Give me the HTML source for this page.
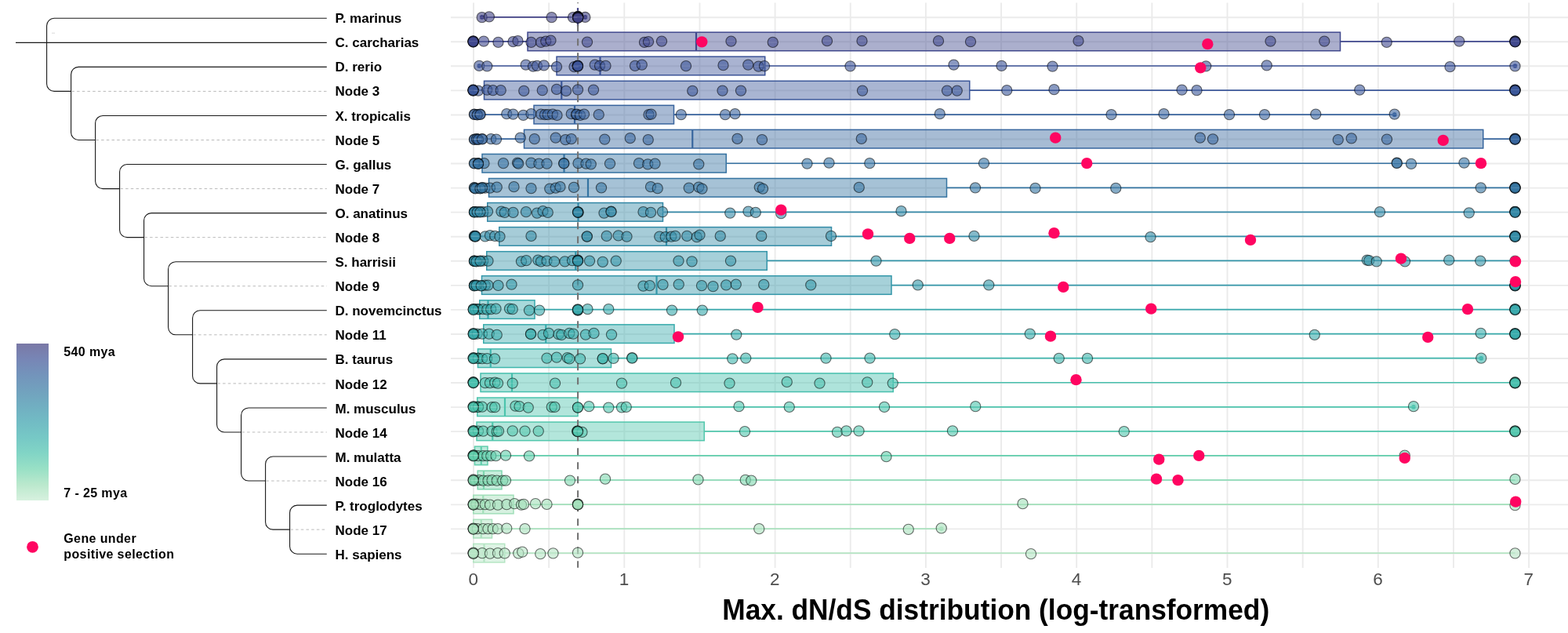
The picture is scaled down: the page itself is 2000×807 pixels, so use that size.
<!DOCTYPE html>
<html><head><meta charset="utf-8"><title>Max. dN/dS distribution</title>
<style>html,body{margin:0;padding:0;background:#fff;}svg{display:block;}</style>
</head><body>
<svg width="2000" height="807" viewBox="0 0 2000 807">
<rect width="2000" height="807" fill="#ffffff"/>
<path d="M20,54.34H416.8M59.60,32.80V106.92M59.60,32.80A9.5,9.5 0 0 1 69.10,23.30H416.80M59.60,106.92A9.5,9.5 0 0 0 69.10,116.42H90.60M90.60,94.88V169.00M90.60,94.88A9.5,9.5 0 0 1 100.10,85.38H416.80M90.60,169.00A9.5,9.5 0 0 0 100.10,178.50H121.60M121.60,156.96V231.08M121.60,156.96A9.5,9.5 0 0 1 131.10,147.46H416.80M121.60,231.08A9.5,9.5 0 0 0 131.10,240.58H152.60M152.60,219.04V293.16M152.60,219.04A9.5,9.5 0 0 1 162.10,209.54H416.80M152.60,293.16A9.5,9.5 0 0 0 162.10,302.66H183.60M183.60,281.12V355.24M183.60,281.12A9.5,9.5 0 0 1 193.10,271.62H416.80M183.60,355.24A9.5,9.5 0 0 0 193.10,364.74H214.60M214.60,343.20V417.32M214.60,343.20A9.5,9.5 0 0 1 224.10,333.70H416.80M214.60,417.32A9.5,9.5 0 0 0 224.10,426.82H245.60M245.60,405.28V479.40M245.60,405.28A9.5,9.5 0 0 1 255.10,395.78H416.80M245.60,479.40A9.5,9.5 0 0 0 255.10,488.90H276.60M276.60,467.36V541.48M276.60,467.36A9.5,9.5 0 0 1 286.10,457.86H416.80M276.60,541.48A9.5,9.5 0 0 0 286.10,550.98H307.60M307.60,529.44V603.56M307.60,529.44A9.5,9.5 0 0 1 317.10,519.94H416.80M307.60,603.56A9.5,9.5 0 0 0 317.10,613.06H338.60M338.60,591.52V665.64M338.60,591.52A9.5,9.5 0 0 1 348.10,582.02H416.80M338.60,665.64A9.5,9.5 0 0 0 348.10,675.14H369.60M369.60,653.60V696.68M369.60,653.60A9.5,9.5 0 0 1 379.10,644.10H416.80M369.60,696.68A9.5,9.5 0 0 0 379.10,706.18H416.80" fill="none" stroke="#1a1a1a" stroke-width="1.1"/>
<path d="M91.40,116.42H416.8M122.40,178.50H416.8M153.40,240.58H416.8M184.40,302.66H416.8M215.40,364.74H416.8M246.40,426.82H416.8M277.40,488.90H416.8M308.40,550.98H416.8M339.40,613.06H416.8M370.40,675.14H416.8" fill="none" stroke="#a8a8a8" stroke-width="0.8" stroke-dasharray="3.5 3.2"/>
<path d="M66,42.2H70" stroke="#cfcfcf" stroke-width="0.8"/>
<g font-family="Liberation Sans, Arial, sans-serif" font-weight="bold" font-size="17" fill="#000">
<text x="427.5" y="29.15">P. marinus</text>
<text x="427.5" y="60.24">C. carcharias</text>
<text x="427.5" y="91.34">D. rerio</text>
<text x="427.5" y="122.44">Node 3</text>
<text x="427.5" y="153.53">X. tropicalis</text>
<text x="427.5" y="184.62">Node 5</text>
<text x="427.5" y="215.72">G. gallus</text>
<text x="427.5" y="246.81">Node 7</text>
<text x="427.5" y="277.91">O. anatinus</text>
<text x="427.5" y="309.00">Node 8</text>
<text x="427.5" y="340.10">S. harrisii</text>
<text x="427.5" y="371.19">Node 9</text>
<text x="427.5" y="402.29">D. novemcinctus</text>
<text x="427.5" y="433.38">Node 11</text>
<text x="427.5" y="464.48">B. taurus</text>
<text x="427.5" y="495.57">Node 12</text>
<text x="427.5" y="526.67">M. musculus</text>
<text x="427.5" y="557.76">Node 14</text>
<text x="427.5" y="588.86">M. mulatta</text>
<text x="427.5" y="619.95">Node 16</text>
<text x="427.5" y="651.05">P. troglodytes</text>
<text x="427.5" y="682.14">Node 17</text>
<text x="427.5" y="713.24">H. sapiens</text>
</g>
<g transform="translate(0,0.45)">
<path d="M575,21.75H2000M575,52.81H2000M575,83.86H2000M575,114.92H2000M575,145.98H2000M575,177.03H2000M575,208.09H2000M575,239.15H2000M575,270.21H2000M575,301.26H2000M575,332.32H2000M575,363.38H2000M575,394.43H2000M575,425.49H2000M575,456.55H2000M575,487.60H2000M575,518.66H2000M575,549.72H2000M575,580.78H2000M575,611.83H2000M575,642.89H2000M575,673.95H2000M575,705.00H2000M604.00,3.1V723.6M700.15,3.1V723.6M796.30,3.1V723.6M892.45,3.1V723.6M988.60,3.1V723.6M1084.75,3.1V723.6M1180.90,3.1V723.6M1277.05,3.1V723.6M1373.20,3.1V723.6M1469.35,3.1V723.6M1565.50,3.1V723.6M1661.65,3.1V723.6M1757.80,3.1V723.6M1853.95,3.1V723.6M1950.10,3.1V723.6" fill="none" stroke="#ebebeb" stroke-width="1.9"/>
</g><g transform="translate(0,0.15)">
<path d="M614.70,21.75H737.00M737.00,21.75H746.40" stroke="#414285" stroke-width="1.7"/>
<path d="M737.00,9.95V33.55" stroke="#414285" stroke-width="2.2"/>
<circle cx="614.70" cy="21.75" r="2.8" fill="#414285"/>
<circle cx="746.40" cy="21.75" r="2.8" fill="#414285"/>
<path d="M603.25,52.81H673.00M1709.50,52.81H1932.50" stroke="#40488d" stroke-width="1.7"/>
<rect x="673.00" y="41.01" width="1036.50" height="23.60" fill="#40488d" fill-opacity="0.44" stroke="#40488d" stroke-width="1.5"/>
<path d="M888.00,41.01V64.61" stroke="#40488d" stroke-width="2.2"/>
<path d="M611.25,83.86H710.00M975.75,83.86H1932.50" stroke="#3c5397" stroke-width="1.7"/>
<rect x="710.00" y="72.06" width="265.75" height="23.60" fill="#3c5397" fill-opacity="0.44" stroke="#3c5397" stroke-width="1.5"/>
<path d="M765.50,72.06V95.66" stroke="#3c5397" stroke-width="2.2"/>
<circle cx="611.25" cy="83.86" r="2.8" fill="#3c5397"/>
<circle cx="1932.50" cy="83.86" r="2.8" fill="#3c5397"/>
<path d="M603.25,114.92H617.50M1236.75,114.92H1932.50" stroke="#3b5799" stroke-width="1.7"/>
<rect x="617.50" y="103.12" width="619.25" height="23.60" fill="#3b5799" fill-opacity="0.44" stroke="#3b5799" stroke-width="1.5"/>
<path d="M716.25,103.12V126.72" stroke="#3b5799" stroke-width="2.2"/>
<path d="M605.00,145.98H681.00M859.50,145.98H1778.75" stroke="#38639d" stroke-width="1.7"/>
<rect x="681.00" y="134.18" width="178.50" height="23.60" fill="#38639d" fill-opacity="0.44" stroke="#38639d" stroke-width="1.5"/>
<path d="M733.00,134.18V157.78" stroke="#38639d" stroke-width="2.2"/>
<circle cx="1778.75" cy="145.98" r="2.8" fill="#38639d"/>
<path d="M605.00,177.03H668.50M1891.75,177.03H1932.50" stroke="#37669e" stroke-width="1.7"/>
<rect x="668.50" y="165.23" width="1223.25" height="23.60" fill="#37669e" fill-opacity="0.44" stroke="#37669e" stroke-width="1.5"/>
<path d="M883.25,165.23V188.84" stroke="#37669e" stroke-width="2.2"/>
<path d="M605.00,208.09H615.00M926.25,208.09H1889.00" stroke="#3572a1" stroke-width="1.7"/>
<rect x="615.00" y="196.29" width="311.25" height="23.60" fill="#3572a1" fill-opacity="0.44" stroke="#3572a1" stroke-width="1.5"/>
<path d="M719.50,196.29V219.89" stroke="#3572a1" stroke-width="2.2"/>
<path d="M600.00,239.15H623.50M1207.50,239.15H1932.50" stroke="#3574a1" stroke-width="1.7"/>
<rect x="623.50" y="227.35" width="584.00" height="23.60" fill="#3574a1" fill-opacity="0.44" stroke="#3574a1" stroke-width="1.5"/>
<path d="M750.00,227.35V250.95" stroke="#3574a1" stroke-width="2.2"/>
<path d="M601.00,270.21H621.75M845.50,270.21H1932.50" stroke="#3488a6" stroke-width="1.7"/>
<rect x="621.75" y="258.41" width="223.75" height="23.60" fill="#3488a6" fill-opacity="0.44" stroke="#3488a6" stroke-width="1.5"/>
<path d="M737.50,258.41V282.01" stroke="#3488a6" stroke-width="2.2"/>
<path d="M601.00,301.26H636.75M1060.50,301.26H1932.50" stroke="#348ca7" stroke-width="1.7"/>
<rect x="636.75" y="289.46" width="423.75" height="23.60" fill="#348ca7" fill-opacity="0.44" stroke="#348ca7" stroke-width="1.5"/>
<path d="M850.00,289.46V313.06" stroke="#348ca7" stroke-width="2.2"/>
<path d="M602.50,332.32H620.75M978.25,332.32H1933.00" stroke="#3495a9" stroke-width="1.7"/>
<rect x="620.75" y="320.52" width="357.50" height="23.60" fill="#3495a9" fill-opacity="0.44" stroke="#3495a9" stroke-width="1.5"/>
<path d="M734.25,320.52V344.12" stroke="#3495a9" stroke-width="2.2"/>
<path d="M602.50,363.38H614.50M1137.00,363.38H1932.50" stroke="#3497a9" stroke-width="1.7"/>
<rect x="614.50" y="351.58" width="522.50" height="23.60" fill="#3497a9" fill-opacity="0.44" stroke="#3497a9" stroke-width="1.5"/>
<path d="M837.50,351.58V375.18" stroke="#3497a9" stroke-width="2.2"/>
<path d="M602.50,394.43H611.75M682.00,394.43H1932.50" stroke="#37a8ac" stroke-width="1.7"/>
<rect x="611.75" y="382.63" width="70.25" height="23.60" fill="#37a8ac" fill-opacity="0.44" stroke="#37a8ac" stroke-width="1.5"/>
<path d="M622.50,382.63V406.23" stroke="#37a8ac" stroke-width="2.2"/>
<path d="M601.00,425.49H616.75M860.00,425.49H1932.50" stroke="#39abac" stroke-width="1.7"/>
<rect x="616.75" y="413.69" width="243.25" height="23.60" fill="#39abac" fill-opacity="0.44" stroke="#39abac" stroke-width="1.5"/>
<path d="M696.25,413.69V437.29" stroke="#39abac" stroke-width="2.2"/>
<path d="M601.00,456.55H609.50M779.50,456.55H1889.25" stroke="#3fb6ad" stroke-width="1.7"/>
<rect x="609.50" y="444.75" width="170.00" height="23.60" fill="#3fb6ad" fill-opacity="0.44" stroke="#3fb6ad" stroke-width="1.5"/>
<path d="M625.75,444.75V468.35" stroke="#3fb6ad" stroke-width="2.2"/>
<circle cx="1889.25" cy="456.55" r="2.8" fill="#3fb6ad"/>
<path d="M603.00,487.60H613.00M1139.25,487.60H1932.50" stroke="#47bfad" stroke-width="1.7"/>
<rect x="613.00" y="475.80" width="526.25" height="23.60" fill="#47bfad" fill-opacity="0.44" stroke="#47bfad" stroke-width="1.5"/>
<path d="M653.00,475.80V499.40" stroke="#47bfad" stroke-width="2.2"/>
<path d="M602.50,518.66H608.75M737.00,518.66H1803.00" stroke="#4dc4ad" stroke-width="1.7"/>
<rect x="608.75" y="506.86" width="128.25" height="23.60" fill="#4dc4ad" fill-opacity="0.44" stroke="#4dc4ad" stroke-width="1.5"/>
<path d="M644.00,506.86V530.46" stroke="#4dc4ad" stroke-width="2.2"/>
<circle cx="1803.00" cy="518.66" r="2.8" fill="#4dc4ad"/>
<path d="M601.00,549.72H608.00M898.25,549.72H1932.50" stroke="#52c7ad" stroke-width="1.7"/>
<rect x="608.00" y="537.92" width="290.25" height="23.60" fill="#52c7ad" fill-opacity="0.44" stroke="#52c7ad" stroke-width="1.5"/>
<path d="M628.25,537.92V561.52" stroke="#52c7ad" stroke-width="2.2"/>
<path d="M601.00,580.78H605.50M622.00,580.78H1791.75" stroke="#60ceac" stroke-width="1.7"/>
<rect x="605.50" y="568.98" width="16.50" height="23.60" fill="#60ceac" fill-opacity="0.44" stroke="#60ceac" stroke-width="1.5"/>
<path d="M613.75,568.98V592.58" stroke="#60ceac" stroke-width="2.2"/>
<path d="M602.50,611.83H609.25M640.00,611.83H1932.50" stroke="#7fd7af" stroke-width="1.7"/>
<rect x="609.25" y="600.03" width="30.75" height="23.60" fill="#7fd7af" fill-opacity="0.44" stroke="#7fd7af" stroke-width="1.5"/>
<path d="M617.00,600.03V623.63" stroke="#7fd7af" stroke-width="2.2"/>
<path d="M602.50,642.89H603.75M655.00,642.89H1932.50" stroke="#a1dfb9" stroke-width="1.7"/>
<rect x="603.75" y="631.09" width="51.25" height="23.60" fill="#a1dfb9" fill-opacity="0.44" stroke="#a1dfb9" stroke-width="1.5"/>
<path d="M616.25,631.09V654.69" stroke="#a1dfb9" stroke-width="2.2"/>
<path d="M602.50,673.95H603.75M627.50,673.95H1200.75" stroke="#a9e1bd" stroke-width="1.7"/>
<rect x="603.75" y="662.15" width="23.75" height="23.60" fill="#a9e1bd" fill-opacity="0.44" stroke="#a9e1bd" stroke-width="1.5"/>
<path d="M613.75,662.15V685.75" stroke="#a9e1bd" stroke-width="2.2"/>
<circle cx="1200.75" cy="673.95" r="2.8" fill="#a9e1bd"/>
<path d="M603.00,705.00H603.75M643.75,705.00H1932.50" stroke="#b5e5c4" stroke-width="1.7"/>
<rect x="603.75" y="693.20" width="40.00" height="23.60" fill="#b5e5c4" fill-opacity="0.44" stroke="#b5e5c4" stroke-width="1.5"/>
<path d="M617.50,693.20V716.80" stroke="#b5e5c4" stroke-width="2.2"/>
<path d="M737.09,3.1V723.6" stroke="#747474" stroke-width="2.1" stroke-dasharray="9 9" stroke-dashoffset="8"/>
<g fill="#414285" fill-opacity="0.6" stroke="rgba(0,0,0,0.56)" stroke-width="1.1"><circle cx="614.70" cy="22.00" r="6.6"/><circle cx="623.90" cy="21.20" r="6.6"/><circle cx="703.60" cy="22.00" r="6.6"/><circle cx="731.00" cy="22.00" r="6.6"/><circle cx="737.20" cy="21.60" r="6.6"/><circle cx="737.20" cy="21.90" r="6.6"/><circle cx="737.20" cy="21.30" r="6.6"/><circle cx="746.40" cy="21.80" r="6.6"/><circle cx="737.20" cy="20.80" r="6.6"/><circle cx="737.20" cy="21.20" r="6.6"/><circle cx="737.20" cy="21.60" r="6.6"/><circle cx="737.20" cy="22.00" r="6.6"/><circle cx="737.20" cy="22.40" r="6.6"/><circle cx="737.20" cy="22.80" r="6.6"/></g>
<path d="M609.30,22.00H620.10M618.50,21.20H629.30M698.20,22.00H709.00M725.60,22.00H736.40M731.80,21.60H742.60M741.00,21.80H751.80" stroke="#fff" stroke-opacity="0.22" stroke-width="0.7"/>
<g fill="#40488d" fill-opacity="0.6" stroke="rgba(0,0,0,0.56)" stroke-width="1.1"><circle cx="603.75" cy="52.50" r="6.6"/><circle cx="603.75" cy="52.80" r="6.6"/><circle cx="603.75" cy="53.20" r="6.6"/><circle cx="617.00" cy="52.50" r="6.6"/><circle cx="635.50" cy="53.75" r="6.6"/><circle cx="654.50" cy="53.00" r="6.6"/><circle cx="660.50" cy="52.00" r="6.6"/><circle cx="677.50" cy="53.75" r="6.6"/><circle cx="690.00" cy="53.75" r="6.6"/><circle cx="696.25" cy="52.50" r="6.6"/><circle cx="702.50" cy="51.50" r="6.6"/><circle cx="749.00" cy="53.50" r="6.6"/><circle cx="822.00" cy="53.75" r="6.6"/><circle cx="827.00" cy="53.00" r="6.6"/><circle cx="844.00" cy="52.50" r="6.6"/><circle cx="932.50" cy="52.50" r="6.6"/><circle cx="985.75" cy="53.75" r="6.6"/><circle cx="1055.00" cy="52.00" r="6.6"/><circle cx="1099.50" cy="52.00" r="6.6"/><circle cx="1197.00" cy="52.00" r="6.6"/><circle cx="1238.00" cy="53.00" r="6.6"/><circle cx="1375.50" cy="52.00" r="6.6"/><circle cx="1620.50" cy="52.50" r="6.6"/><circle cx="1689.25" cy="52.50" r="6.6"/><circle cx="1768.75" cy="53.75" r="6.6"/><circle cx="1861.25" cy="52.50" r="6.6"/><circle cx="1932.50" cy="52.50" r="6.6"/><circle cx="1932.50" cy="52.80" r="6.6"/><circle cx="1932.50" cy="53.10" r="6.6"/><circle cx="603.50" cy="52.21" r="6.6"/><circle cx="603.50" cy="53.41" r="6.6"/><circle cx="603.50" cy="52.81" r="6.6"/><circle cx="1932.50" cy="52.31" r="6.6"/><circle cx="1932.50" cy="53.31" r="6.6"/></g>
<path d="M598.35,52.50H609.15M611.60,52.50H622.40M630.10,53.75H640.90M649.10,53.00H659.90M655.10,52.00H665.90M672.10,53.75H682.90M684.60,53.75H695.40M690.85,52.50H701.65M697.10,51.50H707.90M743.60,53.50H754.40M816.60,53.75H827.40M821.60,53.00H832.40M838.60,52.50H849.40M927.10,52.50H937.90M980.35,53.75H991.15M1049.60,52.00H1060.40M1094.10,52.00H1104.90M1191.60,52.00H1202.40M1232.60,53.00H1243.40M1370.10,52.00H1380.90M1615.10,52.50H1625.90M1683.85,52.50H1694.65M1763.35,53.75H1774.15M1855.85,52.50H1866.65M1927.10,52.50H1937.90" stroke="#fff" stroke-opacity="0.22" stroke-width="0.7"/>
<g fill="#3c5397" fill-opacity="0.6" stroke="rgba(0,0,0,0.56)" stroke-width="1.1"><circle cx="611.25" cy="83.75" r="6.6"/><circle cx="621.25" cy="84.25" r="6.6"/><circle cx="670.75" cy="82.50" r="6.6"/><circle cx="680.00" cy="84.50" r="6.6"/><circle cx="685.00" cy="83.75" r="6.6"/><circle cx="693.75" cy="83.25" r="6.6"/><circle cx="710.00" cy="85.00" r="6.6"/><circle cx="732.50" cy="85.00" r="6.6"/><circle cx="736.75" cy="83.75" r="6.6"/><circle cx="736.75" cy="84.00" r="6.6"/><circle cx="736.75" cy="84.30" r="6.6"/><circle cx="758.75" cy="82.50" r="6.6"/><circle cx="765.00" cy="83.75" r="6.6"/><circle cx="772.50" cy="83.75" r="6.6"/><circle cx="810.00" cy="83.75" r="6.6"/><circle cx="818.75" cy="82.50" r="6.6"/><circle cx="875.00" cy="84.00" r="6.6"/><circle cx="922.50" cy="83.00" r="6.6"/><circle cx="954.25" cy="82.50" r="6.6"/><circle cx="967.50" cy="84.50" r="6.6"/><circle cx="975.00" cy="84.00" r="6.6"/><circle cx="1084.50" cy="84.25" r="6.6"/><circle cx="1216.50" cy="82.50" r="6.6"/><circle cx="1277.50" cy="83.75" r="6.6"/><circle cx="1342.50" cy="84.50" r="6.6"/><circle cx="1538.20" cy="84.25" r="6.6"/><circle cx="1615.75" cy="83.25" r="6.6"/><circle cx="1849.50" cy="85.00" r="6.6"/><circle cx="1932.50" cy="84.25" r="6.6"/><circle cx="737.00" cy="83.56" r="6.6"/><circle cx="737.00" cy="84.26" r="6.6"/></g>
<path d="M605.85,83.75H616.65M615.85,84.25H626.65M665.35,82.50H676.15M674.60,84.50H685.40M679.60,83.75H690.40M688.35,83.25H699.15M704.60,85.00H715.40M727.10,85.00H737.90M731.35,83.75H742.15M753.35,82.50H764.15M759.60,83.75H770.40M767.10,83.75H777.90M804.60,83.75H815.40M813.35,82.50H824.15M869.60,84.00H880.40M917.10,83.00H927.90M948.85,82.50H959.65M962.10,84.50H972.90M969.60,84.00H980.40M1079.10,84.25H1089.90M1211.10,82.50H1221.90M1272.10,83.75H1282.90M1337.10,84.50H1347.90M1532.80,84.25H1543.60M1610.35,83.25H1621.15M1844.10,85.00H1854.90M1927.10,84.25H1937.90" stroke="#fff" stroke-opacity="0.22" stroke-width="0.7"/>
<g fill="#3b5799" fill-opacity="0.6" stroke="rgba(0,0,0,0.56)" stroke-width="1.1"><circle cx="603.75" cy="115.00" r="6.6"/><circle cx="603.75" cy="115.30" r="6.6"/><circle cx="603.75" cy="114.70" r="6.6"/><circle cx="610.00" cy="115.50" r="6.6"/><circle cx="621.25" cy="114.50" r="6.6"/><circle cx="628.75" cy="115.00" r="6.6"/><circle cx="638.75" cy="115.00" r="6.6"/><circle cx="668.25" cy="115.75" r="6.6"/><circle cx="691.75" cy="115.00" r="6.6"/><circle cx="710.00" cy="113.75" r="6.6"/><circle cx="722.00" cy="115.75" r="6.6"/><circle cx="737.00" cy="114.25" r="6.6"/><circle cx="757.00" cy="114.50" r="6.6"/><circle cx="883.25" cy="115.75" r="6.6"/><circle cx="921.50" cy="115.50" r="6.6"/><circle cx="945.00" cy="115.50" r="6.6"/><circle cx="1100.00" cy="115.50" r="6.6"/><circle cx="1208.00" cy="115.50" r="6.6"/><circle cx="1220.75" cy="115.50" r="6.6"/><circle cx="1284.25" cy="115.00" r="6.6"/><circle cx="1344.50" cy="114.00" r="6.6"/><circle cx="1507.50" cy="114.50" r="6.6"/><circle cx="1526.50" cy="115.00" r="6.6"/><circle cx="1734.25" cy="114.50" r="6.6"/><circle cx="1932.50" cy="114.50" r="6.6"/><circle cx="1932.50" cy="114.80" r="6.6"/><circle cx="1932.50" cy="115.10" r="6.6"/><circle cx="603.50" cy="114.32" r="6.6"/><circle cx="603.50" cy="115.52" r="6.6"/><circle cx="603.50" cy="114.92" r="6.6"/><circle cx="1932.50" cy="114.42" r="6.6"/><circle cx="1932.50" cy="115.42" r="6.6"/></g>
<path d="M598.35,115.00H609.15M604.60,115.50H615.40M615.85,114.50H626.65M623.35,115.00H634.15M633.35,115.00H644.15M662.85,115.75H673.65M686.35,115.00H697.15M704.60,113.75H715.40M716.60,115.75H727.40M731.60,114.25H742.40M751.60,114.50H762.40M877.85,115.75H888.65M916.10,115.50H926.90M939.60,115.50H950.40M1094.60,115.50H1105.40M1202.60,115.50H1213.40M1215.35,115.50H1226.15M1278.85,115.00H1289.65M1339.10,114.00H1349.90M1502.10,114.50H1512.90M1521.10,115.00H1531.90M1728.85,114.50H1739.65M1927.10,114.50H1937.90" stroke="#fff" stroke-opacity="0.22" stroke-width="0.7"/>
<g fill="#38639d" fill-opacity="0.6" stroke="rgba(0,0,0,0.56)" stroke-width="1.1"><circle cx="605.00" cy="145.50" r="6.6"/><circle cx="608.75" cy="146.00" r="6.6"/><circle cx="612.50" cy="145.50" r="6.6"/><circle cx="646.25" cy="145.00" r="6.6"/><circle cx="654.50" cy="145.50" r="6.6"/><circle cx="667.50" cy="146.75" r="6.6"/><circle cx="677.50" cy="145.00" r="6.6"/><circle cx="690.00" cy="145.50" r="6.6"/><circle cx="695.00" cy="146.00" r="6.6"/><circle cx="698.75" cy="146.00" r="6.6"/><circle cx="705.00" cy="145.50" r="6.6"/><circle cx="710.50" cy="146.75" r="6.6"/><circle cx="728.75" cy="145.00" r="6.6"/><circle cx="735.00" cy="146.00" r="6.6"/><circle cx="735.50" cy="145.50" r="6.6"/><circle cx="740.00" cy="146.75" r="6.6"/><circle cx="745.00" cy="145.50" r="6.6"/><circle cx="763.75" cy="146.00" r="6.6"/><circle cx="827.50" cy="146.00" r="6.6"/><circle cx="830.50" cy="145.50" r="6.6"/><circle cx="868.75" cy="146.00" r="6.6"/><circle cx="925.00" cy="146.00" r="6.6"/><circle cx="937.50" cy="145.00" r="6.6"/><circle cx="1198.75" cy="145.00" r="6.6"/><circle cx="1417.50" cy="146.00" r="6.6"/><circle cx="1484.50" cy="145.00" r="6.6"/><circle cx="1568.00" cy="146.00" r="6.6"/><circle cx="1613.00" cy="146.00" r="6.6"/><circle cx="1678.25" cy="145.50" r="6.6"/><circle cx="1778.75" cy="145.50" r="6.6"/><circle cx="605.00" cy="145.80" r="6.6"/><circle cx="608.75" cy="146.30" r="6.6"/><circle cx="612.50" cy="145.80" r="6.6"/></g>
<path d="M599.60,145.50H610.40M603.35,146.00H614.15M607.10,145.50H617.90M640.85,145.00H651.65M649.10,145.50H659.90M662.10,146.75H672.90M672.10,145.00H682.90M684.60,145.50H695.40M689.60,146.00H700.40M693.35,146.00H704.15M699.60,145.50H710.40M705.10,146.75H715.90M723.35,145.00H734.15M729.60,146.00H740.40M730.10,145.50H740.90M734.60,146.75H745.40M739.60,145.50H750.40M758.35,146.00H769.15M822.10,146.00H832.90M825.10,145.50H835.90M863.35,146.00H874.15M919.60,146.00H930.40M932.10,145.00H942.90M1193.35,145.00H1204.15M1412.10,146.00H1422.90M1479.10,145.00H1489.90M1562.60,146.00H1573.40M1607.60,146.00H1618.40M1672.85,145.50H1683.65M1773.35,145.50H1784.15" stroke="#fff" stroke-opacity="0.22" stroke-width="0.7"/>
<g fill="#37669e" fill-opacity="0.6" stroke="rgba(0,0,0,0.56)" stroke-width="1.1"><circle cx="605.00" cy="177.50" r="6.6"/><circle cx="608.00" cy="177.00" r="6.6"/><circle cx="610.00" cy="177.50" r="6.6"/><circle cx="615.00" cy="177.00" r="6.6"/><circle cx="626.25" cy="177.00" r="6.6"/><circle cx="633.00" cy="177.50" r="6.6"/><circle cx="663.75" cy="175.50" r="6.6"/><circle cx="681.75" cy="177.00" r="6.6"/><circle cx="708.75" cy="175.50" r="6.6"/><circle cx="721.25" cy="178.00" r="6.6"/><circle cx="728.75" cy="177.00" r="6.6"/><circle cx="771.25" cy="177.50" r="6.6"/><circle cx="803.75" cy="176.00" r="6.6"/><circle cx="826.75" cy="178.00" r="6.6"/><circle cx="940.50" cy="176.75" r="6.6"/><circle cx="972.00" cy="178.00" r="6.6"/><circle cx="1098.75" cy="176.75" r="6.6"/><circle cx="1530.75" cy="175.50" r="6.6"/><circle cx="1547.00" cy="177.25" r="6.6"/><circle cx="1706.75" cy="178.00" r="6.6"/><circle cx="1723.75" cy="176.25" r="6.6"/><circle cx="1769.00" cy="177.50" r="6.6"/><circle cx="1932.50" cy="177.25" r="6.6"/><circle cx="1932.50" cy="177.50" r="6.6"/><circle cx="1932.50" cy="176.90" r="6.6"/><circle cx="1932.50" cy="176.53" r="6.6"/><circle cx="1932.50" cy="177.53" r="6.6"/><circle cx="605.00" cy="177.80" r="6.6"/><circle cx="608.00" cy="177.30" r="6.6"/><circle cx="610.00" cy="177.80" r="6.6"/><circle cx="615.00" cy="177.30" r="6.6"/></g>
<path d="M599.60,177.50H610.40M602.60,177.00H613.40M604.60,177.50H615.40M609.60,177.00H620.40M620.85,177.00H631.65M627.60,177.50H638.40M658.35,175.50H669.15M676.35,177.00H687.15M703.35,175.50H714.15M715.85,178.00H726.65M723.35,177.00H734.15M765.85,177.50H776.65M798.35,176.00H809.15M821.35,178.00H832.15M935.10,176.75H945.90M966.60,178.00H977.40M1093.35,176.75H1104.15M1525.35,175.50H1536.15M1541.60,177.25H1552.40M1701.35,178.00H1712.15M1718.35,176.25H1729.15M1763.60,177.50H1774.40M1927.10,177.25H1937.90" stroke="#fff" stroke-opacity="0.22" stroke-width="0.7"/>
<g fill="#3572a1" fill-opacity="0.6" stroke="rgba(0,0,0,0.56)" stroke-width="1.1"><circle cx="605.00" cy="208.00" r="6.6"/><circle cx="610.00" cy="208.00" r="6.6"/><circle cx="610.00" cy="208.50" r="6.6"/><circle cx="617.50" cy="208.00" r="6.6"/><circle cx="642.00" cy="208.00" r="6.6"/><circle cx="660.00" cy="207.50" r="6.6"/><circle cx="661.25" cy="208.50" r="6.6"/><circle cx="677.50" cy="207.50" r="6.6"/><circle cx="687.50" cy="208.50" r="6.6"/><circle cx="697.50" cy="208.50" r="6.6"/><circle cx="719.25" cy="208.00" r="6.6"/><circle cx="719.25" cy="208.30" r="6.6"/><circle cx="737.50" cy="208.00" r="6.6"/><circle cx="747.50" cy="208.50" r="6.6"/><circle cx="753.75" cy="209.25" r="6.6"/><circle cx="778.00" cy="208.50" r="6.6"/><circle cx="815.00" cy="208.00" r="6.6"/><circle cx="826.25" cy="209.25" r="6.6"/><circle cx="835.50" cy="208.50" r="6.6"/><circle cx="891.25" cy="209.25" r="6.6"/><circle cx="1029.50" cy="208.50" r="6.6"/><circle cx="1057.50" cy="207.50" r="6.6"/><circle cx="1109.25" cy="208.00" r="6.6"/><circle cx="1255.00" cy="208.00" r="6.6"/><circle cx="1781.75" cy="207.50" r="6.6"/><circle cx="1781.75" cy="207.80" r="6.6"/><circle cx="1800.00" cy="208.75" r="6.6"/><circle cx="1867.50" cy="207.50" r="6.6"/><circle cx="605.00" cy="208.30" r="6.6"/><circle cx="610.00" cy="208.30" r="6.6"/><circle cx="610.00" cy="208.80" r="6.6"/></g>
<path d="M599.60,208.00H610.40M604.60,208.00H615.40M612.10,208.00H622.90M636.60,208.00H647.40M654.60,207.50H665.40M655.85,208.50H666.65M672.10,207.50H682.90M682.10,208.50H692.90M692.10,208.50H702.90M713.85,208.00H724.65M732.10,208.00H742.90M742.10,208.50H752.90M748.35,209.25H759.15M772.60,208.50H783.40M809.60,208.00H820.40M820.85,209.25H831.65M830.10,208.50H840.90M885.85,209.25H896.65M1024.10,208.50H1034.90M1052.10,207.50H1062.90M1103.85,208.00H1114.65M1249.60,208.00H1260.40M1776.35,207.50H1787.15M1794.60,208.75H1805.40M1862.10,207.50H1872.90" stroke="#fff" stroke-opacity="0.22" stroke-width="0.7"/>
<g fill="#3574a1" fill-opacity="0.6" stroke="rgba(0,0,0,0.56)" stroke-width="1.1"><circle cx="605.00" cy="239.00" r="6.6"/><circle cx="606.25" cy="240.00" r="6.6"/><circle cx="612.50" cy="240.00" r="6.6"/><circle cx="615.00" cy="239.00" r="6.6"/><circle cx="618.75" cy="239.50" r="6.6"/><circle cx="625.00" cy="239.50" r="6.6"/><circle cx="633.75" cy="238.50" r="6.6"/><circle cx="655.50" cy="238.00" r="6.6"/><circle cx="677.50" cy="240.00" r="6.6"/><circle cx="701.25" cy="240.50" r="6.6"/><circle cx="708.75" cy="239.50" r="6.6"/><circle cx="714.50" cy="238.00" r="6.6"/><circle cx="732.00" cy="238.75" r="6.6"/><circle cx="767.00" cy="239.25" r="6.6"/><circle cx="830.00" cy="238.00" r="6.6"/><circle cx="838.75" cy="240.00" r="6.6"/><circle cx="878.75" cy="239.50" r="6.6"/><circle cx="891.25" cy="238.50" r="6.6"/><circle cx="895.50" cy="240.50" r="6.6"/><circle cx="968.75" cy="238.50" r="6.6"/><circle cx="973.00" cy="240.50" r="6.6"/><circle cx="1095.75" cy="238.75" r="6.6"/><circle cx="1244.00" cy="239.25" r="6.6"/><circle cx="1320.50" cy="239.75" r="6.6"/><circle cx="1423.25" cy="239.75" r="6.6"/><circle cx="1888.75" cy="239.25" r="6.6"/><circle cx="1932.50" cy="239.25" r="6.6"/><circle cx="1932.50" cy="239.50" r="6.6"/><circle cx="1932.50" cy="239.00" r="6.6"/><circle cx="1932.50" cy="238.65" r="6.6"/><circle cx="1932.50" cy="239.65" r="6.6"/><circle cx="605.00" cy="239.30" r="6.6"/><circle cx="606.25" cy="240.30" r="6.6"/><circle cx="612.50" cy="240.30" r="6.6"/><circle cx="615.00" cy="239.30" r="6.6"/></g>
<path d="M599.60,239.00H610.40M600.85,240.00H611.65M607.10,240.00H617.90M609.60,239.00H620.40M613.35,239.50H624.15M619.60,239.50H630.40M628.35,238.50H639.15M650.10,238.00H660.90M672.10,240.00H682.90M695.85,240.50H706.65M703.35,239.50H714.15M709.10,238.00H719.90M726.60,238.75H737.40M761.60,239.25H772.40M824.60,238.00H835.40M833.35,240.00H844.15M873.35,239.50H884.15M885.85,238.50H896.65M890.10,240.50H900.90M963.35,238.50H974.15M967.60,240.50H978.40M1090.35,238.75H1101.15M1238.60,239.25H1249.40M1315.10,239.75H1325.90M1417.85,239.75H1428.65M1883.35,239.25H1894.15M1927.10,239.25H1937.90" stroke="#fff" stroke-opacity="0.22" stroke-width="0.7"/>
<g fill="#3488a6" fill-opacity="0.6" stroke="rgba(0,0,0,0.56)" stroke-width="1.1"><circle cx="605.00" cy="270.00" r="6.6"/><circle cx="605.00" cy="270.00" r="6.6"/><circle cx="608.75" cy="270.00" r="6.6"/><circle cx="612.50" cy="270.00" r="6.6"/><circle cx="616.25" cy="270.00" r="6.6"/><circle cx="622.00" cy="269.50" r="6.6"/><circle cx="639.50" cy="269.50" r="6.6"/><circle cx="643.75" cy="270.75" r="6.6"/><circle cx="654.50" cy="270.75" r="6.6"/><circle cx="671.00" cy="270.00" r="6.6"/><circle cx="685.00" cy="271.50" r="6.6"/><circle cx="692.50" cy="269.00" r="6.6"/><circle cx="698.75" cy="270.75" r="6.6"/><circle cx="737.50" cy="270.75" r="6.6"/><circle cx="737.50" cy="270.50" r="6.6"/><circle cx="770.50" cy="271.50" r="6.6"/><circle cx="779.50" cy="269.50" r="6.6"/><circle cx="779.50" cy="269.80" r="6.6"/><circle cx="820.50" cy="270.00" r="6.6"/><circle cx="830.00" cy="270.75" r="6.6"/><circle cx="845.00" cy="270.00" r="6.6"/><circle cx="931.25" cy="271.50" r="6.6"/><circle cx="954.50" cy="269.50" r="6.6"/><circle cx="963.75" cy="270.75" r="6.6"/><circle cx="996.25" cy="272.00" r="6.6"/><circle cx="1149.50" cy="269.00" r="6.6"/><circle cx="1760.00" cy="270.00" r="6.6"/><circle cx="1873.75" cy="271.25" r="6.6"/><circle cx="1932.50" cy="270.00" r="6.6"/><circle cx="1932.50" cy="270.30" r="6.6"/><circle cx="1932.50" cy="269.70" r="6.6"/><circle cx="1932.50" cy="269.71" r="6.6"/><circle cx="1932.50" cy="270.71" r="6.6"/><circle cx="737.00" cy="269.91" r="6.6"/><circle cx="737.00" cy="270.61" r="6.6"/><circle cx="605.00" cy="270.30" r="6.6"/><circle cx="605.00" cy="270.30" r="6.6"/><circle cx="608.75" cy="270.30" r="6.6"/><circle cx="612.50" cy="270.30" r="6.6"/></g>
<path d="M599.60,270.00H610.40M603.35,270.00H614.15M607.10,270.00H617.90M610.85,270.00H621.65M616.60,269.50H627.40M634.10,269.50H644.90M638.35,270.75H649.15M649.10,270.75H659.90M665.60,270.00H676.40M679.60,271.50H690.40M687.10,269.00H697.90M693.35,270.75H704.15M732.10,270.75H742.90M765.10,271.50H775.90M774.10,269.50H784.90M815.10,270.00H825.90M824.60,270.75H835.40M839.60,270.00H850.40M925.85,271.50H936.65M949.10,269.50H959.90M958.35,270.75H969.15M990.85,272.00H1001.65M1144.10,269.00H1154.90M1754.60,270.00H1765.40M1868.35,271.25H1879.15M1927.10,270.00H1937.90M731.60,269.91H742.40" stroke="#fff" stroke-opacity="0.22" stroke-width="0.7"/>
<g fill="#348ca7" fill-opacity="0.6" stroke="rgba(0,0,0,0.56)" stroke-width="1.1"><circle cx="605.00" cy="300.75" r="6.6"/><circle cx="606.25" cy="301.25" r="6.6"/><circle cx="606.25" cy="300.75" r="6.6"/><circle cx="618.75" cy="301.25" r="6.6"/><circle cx="625.00" cy="300.00" r="6.6"/><circle cx="631.25" cy="300.75" r="6.6"/><circle cx="637.50" cy="301.50" r="6.6"/><circle cx="677.50" cy="300.75" r="6.6"/><circle cx="748.75" cy="301.50" r="6.6"/><circle cx="748.75" cy="301.20" r="6.6"/><circle cx="773.75" cy="300.75" r="6.6"/><circle cx="788.75" cy="300.25" r="6.6"/><circle cx="799.50" cy="301.50" r="6.6"/><circle cx="841.25" cy="301.50" r="6.6"/><circle cx="848.75" cy="302.00" r="6.6"/><circle cx="856.25" cy="301.50" r="6.6"/><circle cx="861.25" cy="300.75" r="6.6"/><circle cx="876.25" cy="300.75" r="6.6"/><circle cx="888.75" cy="302.00" r="6.6"/><circle cx="892.50" cy="299.50" r="6.6"/><circle cx="918.75" cy="300.75" r="6.6"/><circle cx="971.25" cy="300.75" r="6.6"/><circle cx="1060.00" cy="300.75" r="6.6"/><circle cx="1242.50" cy="300.75" r="6.6"/><circle cx="1467.50" cy="302.00" r="6.6"/><circle cx="1932.50" cy="301.25" r="6.6"/><circle cx="1932.50" cy="301.50" r="6.6"/><circle cx="1932.50" cy="301.00" r="6.6"/><circle cx="1932.50" cy="300.76" r="6.6"/><circle cx="1932.50" cy="301.76" r="6.6"/><circle cx="605.00" cy="301.05" r="6.6"/><circle cx="606.25" cy="301.55" r="6.6"/><circle cx="606.25" cy="301.05" r="6.6"/></g>
<path d="M599.60,300.75H610.40M600.85,301.25H611.65M613.35,301.25H624.15M619.60,300.00H630.40M625.85,300.75H636.65M632.10,301.50H642.90M672.10,300.75H682.90M743.35,301.50H754.15M768.35,300.75H779.15M783.35,300.25H794.15M794.10,301.50H804.90M835.85,301.50H846.65M843.35,302.00H854.15M850.85,301.50H861.65M855.85,300.75H866.65M870.85,300.75H881.65M883.35,302.00H894.15M887.10,299.50H897.90M913.35,300.75H924.15M965.85,300.75H976.65M1054.60,300.75H1065.40M1237.10,300.75H1247.90M1462.10,302.00H1472.90M1927.10,301.25H1937.90" stroke="#fff" stroke-opacity="0.22" stroke-width="0.7"/>
<g fill="#3495a9" fill-opacity="0.6" stroke="rgba(0,0,0,0.56)" stroke-width="1.1"><circle cx="605.00" cy="332.50" r="6.6"/><circle cx="605.00" cy="332.50" r="6.6"/><circle cx="607.50" cy="333.00" r="6.6"/><circle cx="612.50" cy="332.50" r="6.6"/><circle cx="616.25" cy="332.50" r="6.6"/><circle cx="622.50" cy="332.50" r="6.6"/><circle cx="665.00" cy="333.25" r="6.6"/><circle cx="671.25" cy="332.00" r="6.6"/><circle cx="686.25" cy="331.50" r="6.6"/><circle cx="690.00" cy="333.25" r="6.6"/><circle cx="697.50" cy="332.50" r="6.6"/><circle cx="707.00" cy="333.25" r="6.6"/><circle cx="720.50" cy="333.25" r="6.6"/><circle cx="730.00" cy="332.00" r="6.6"/><circle cx="737.00" cy="331.50" r="6.6"/><circle cx="737.00" cy="331.80" r="6.6"/><circle cx="752.00" cy="332.50" r="6.6"/><circle cx="768.75" cy="333.75" r="6.6"/><circle cx="785.75" cy="332.50" r="6.6"/><circle cx="865.50" cy="332.50" r="6.6"/><circle cx="882.50" cy="333.25" r="6.6"/><circle cx="932.00" cy="332.50" r="6.6"/><circle cx="1117.50" cy="332.50" r="6.6"/><circle cx="1743.75" cy="331.50" r="6.6"/><circle cx="1746.25" cy="332.00" r="6.6"/><circle cx="1755.75" cy="333.25" r="6.6"/><circle cx="1792.00" cy="333.25" r="6.6"/><circle cx="1848.25" cy="331.50" r="6.6"/><circle cx="1888.25" cy="332.50" r="6.6"/><circle cx="1932.50" cy="332.50" r="6.6"/><circle cx="737.00" cy="332.02" r="6.6"/><circle cx="737.00" cy="332.72" r="6.6"/><circle cx="605.00" cy="332.80" r="6.6"/><circle cx="605.00" cy="332.80" r="6.6"/><circle cx="607.50" cy="333.30" r="6.6"/><circle cx="612.50" cy="332.80" r="6.6"/></g>
<path d="M599.60,332.50H610.40M602.10,333.00H612.90M607.10,332.50H617.90M610.85,332.50H621.65M617.10,332.50H627.90M659.60,333.25H670.40M665.85,332.00H676.65M680.85,331.50H691.65M684.60,333.25H695.40M692.10,332.50H702.90M701.60,333.25H712.40M715.10,333.25H725.90M724.60,332.00H735.40M731.60,331.50H742.40M746.60,332.50H757.40M763.35,333.75H774.15M780.35,332.50H791.15M860.10,332.50H870.90M877.10,333.25H887.90M926.60,332.50H937.40M1112.10,332.50H1122.90M1738.35,331.50H1749.15M1740.85,332.00H1751.65M1750.35,333.25H1761.15M1786.60,333.25H1797.40M1842.85,331.50H1853.65M1882.85,332.50H1893.65M1927.10,332.50H1937.90" stroke="#fff" stroke-opacity="0.22" stroke-width="0.7"/>
<g fill="#3497a9" fill-opacity="0.6" stroke="rgba(0,0,0,0.56)" stroke-width="1.1"><circle cx="605.00" cy="363.50" r="6.6"/><circle cx="605.00" cy="364.00" r="6.6"/><circle cx="607.50" cy="363.50" r="6.6"/><circle cx="613.75" cy="364.00" r="6.6"/><circle cx="618.75" cy="363.50" r="6.6"/><circle cx="622.50" cy="363.50" r="6.6"/><circle cx="635.50" cy="363.75" r="6.6"/><circle cx="652.50" cy="362.50" r="6.6"/><circle cx="737.00" cy="363.25" r="6.6"/><circle cx="820.50" cy="364.50" r="6.6"/><circle cx="828.75" cy="364.00" r="6.6"/><circle cx="845.50" cy="362.75" r="6.6"/><circle cx="865.75" cy="362.50" r="6.6"/><circle cx="895.00" cy="364.00" r="6.6"/><circle cx="909.50" cy="365.00" r="6.6"/><circle cx="926.25" cy="363.25" r="6.6"/><circle cx="938.75" cy="362.50" r="6.6"/><circle cx="974.25" cy="362.75" r="6.6"/><circle cx="1034.25" cy="363.25" r="6.6"/><circle cx="1170.75" cy="363.25" r="6.6"/><circle cx="1261.25" cy="363.25" r="6.6"/><circle cx="1932.50" cy="363.75" r="6.6"/><circle cx="1932.50" cy="364.00" r="6.6"/><circle cx="1932.50" cy="364.30" r="6.6"/><circle cx="1932.50" cy="362.88" r="6.6"/><circle cx="1932.50" cy="363.88" r="6.6"/><circle cx="605.00" cy="363.80" r="6.6"/><circle cx="605.00" cy="364.30" r="6.6"/><circle cx="607.50" cy="363.80" r="6.6"/><circle cx="613.75" cy="364.30" r="6.6"/></g>
<path d="M599.60,363.50H610.40M602.10,363.50H612.90M608.35,364.00H619.15M613.35,363.50H624.15M617.10,363.50H627.90M630.10,363.75H640.90M647.10,362.50H657.90M731.60,363.25H742.40M815.10,364.50H825.90M823.35,364.00H834.15M840.10,362.75H850.90M860.35,362.50H871.15M889.60,364.00H900.40M904.10,365.00H914.90M920.85,363.25H931.65M933.35,362.50H944.15M968.85,362.75H979.65M1028.85,363.25H1039.65M1165.35,363.25H1176.15M1255.85,363.25H1266.65M1927.10,363.75H1937.90" stroke="#fff" stroke-opacity="0.22" stroke-width="0.7"/>
<g fill="#37a8ac" fill-opacity="0.6" stroke="rgba(0,0,0,0.56)" stroke-width="1.1"><circle cx="603.75" cy="394.00" r="6.6"/><circle cx="606.25" cy="394.00" r="6.6"/><circle cx="610.00" cy="394.00" r="6.6"/><circle cx="610.00" cy="394.30" r="6.6"/><circle cx="616.25" cy="394.00" r="6.6"/><circle cx="621.25" cy="394.50" r="6.6"/><circle cx="626.25" cy="394.00" r="6.6"/><circle cx="632.50" cy="393.50" r="6.6"/><circle cx="650.00" cy="393.50" r="6.6"/><circle cx="653.75" cy="394.00" r="6.6"/><circle cx="675.00" cy="395.50" r="6.6"/><circle cx="688.00" cy="395.50" r="6.6"/><circle cx="737.00" cy="395.50" r="6.6"/><circle cx="737.00" cy="395.20" r="6.6"/><circle cx="749.50" cy="394.00" r="6.6"/><circle cx="776.25" cy="394.00" r="6.6"/><circle cx="857.00" cy="395.50" r="6.6"/><circle cx="895.75" cy="395.50" r="6.6"/><circle cx="1932.50" cy="394.25" r="6.6"/><circle cx="1932.50" cy="394.50" r="6.6"/><circle cx="603.75" cy="393.93" r="6.6"/><circle cx="603.75" cy="394.93" r="6.6"/><circle cx="1932.50" cy="393.93" r="6.6"/><circle cx="1932.50" cy="394.93" r="6.6"/><circle cx="737.00" cy="394.13" r="6.6"/><circle cx="737.00" cy="394.83" r="6.6"/></g>
<path d="M598.35,394.00H609.15M600.85,394.00H611.65M604.60,394.00H615.40M610.85,394.00H621.65M615.85,394.50H626.65M620.85,394.00H631.65M627.10,393.50H637.90M644.60,393.50H655.40M648.35,394.00H659.15M669.60,395.50H680.40M682.60,395.50H693.40M731.60,395.50H742.40M744.10,394.00H754.90M770.85,394.00H781.65M851.60,395.50H862.40M890.35,395.50H901.15M1927.10,394.25H1937.90" stroke="#fff" stroke-opacity="0.22" stroke-width="0.7"/>
<g fill="#39abac" fill-opacity="0.6" stroke="rgba(0,0,0,0.56)" stroke-width="1.1"><circle cx="603.75" cy="425.50" r="6.6"/><circle cx="605.00" cy="425.50" r="6.6"/><circle cx="608.75" cy="425.50" r="6.6"/><circle cx="615.00" cy="425.50" r="6.6"/><circle cx="623.75" cy="425.50" r="6.6"/><circle cx="633.75" cy="426.75" r="6.6"/><circle cx="677.00" cy="425.50" r="6.6"/><circle cx="677.00" cy="425.80" r="6.6"/><circle cx="692.50" cy="426.75" r="6.6"/><circle cx="700.00" cy="424.75" r="6.6"/><circle cx="712.50" cy="426.00" r="6.6"/><circle cx="716.25" cy="426.75" r="6.6"/><circle cx="726.25" cy="424.75" r="6.6"/><circle cx="731.25" cy="425.50" r="6.6"/><circle cx="747.00" cy="426.50" r="6.6"/><circle cx="757.50" cy="424.75" r="6.6"/><circle cx="780.00" cy="426.50" r="6.6"/><circle cx="939.25" cy="426.50" r="6.6"/><circle cx="1141.25" cy="426.00" r="6.6"/><circle cx="1313.75" cy="425.50" r="6.6"/><circle cx="1676.75" cy="426.75" r="6.6"/><circle cx="1888.75" cy="424.75" r="6.6"/><circle cx="1932.50" cy="425.50" r="6.6"/><circle cx="1932.50" cy="425.80" r="6.6"/><circle cx="1932.50" cy="425.20" r="6.6"/><circle cx="603.75" cy="424.99" r="6.6"/><circle cx="603.75" cy="425.99" r="6.6"/><circle cx="1932.50" cy="424.99" r="6.6"/><circle cx="1932.50" cy="425.99" r="6.6"/></g>
<path d="M598.35,425.50H609.15M599.60,425.50H610.40M603.35,425.50H614.15M609.60,425.50H620.40M618.35,425.50H629.15M628.35,426.75H639.15M671.60,425.50H682.40M687.10,426.75H697.90M694.60,424.75H705.40M707.10,426.00H717.90M710.85,426.75H721.65M720.85,424.75H731.65M725.85,425.50H736.65M741.60,426.50H752.40M752.10,424.75H762.90M774.60,426.50H785.40M933.85,426.50H944.65M1135.85,426.00H1146.65M1308.35,425.50H1319.15M1671.35,426.75H1682.15M1883.35,424.75H1894.15M1927.10,425.50H1937.90" stroke="#fff" stroke-opacity="0.22" stroke-width="0.7"/>
<g fill="#3fb6ad" fill-opacity="0.6" stroke="rgba(0,0,0,0.56)" stroke-width="1.1"><circle cx="603.75" cy="456.50" r="6.6"/><circle cx="605.00" cy="456.50" r="6.6"/><circle cx="610.00" cy="456.50" r="6.6"/><circle cx="610.00" cy="456.80" r="6.6"/><circle cx="615.00" cy="457.00" r="6.6"/><circle cx="621.25" cy="457.00" r="6.6"/><circle cx="631.00" cy="457.25" r="6.6"/><circle cx="697.50" cy="456.50" r="6.6"/><circle cx="710.00" cy="455.50" r="6.6"/><circle cx="723.75" cy="456.00" r="6.6"/><circle cx="726.25" cy="457.25" r="6.6"/><circle cx="740.00" cy="457.25" r="6.6"/><circle cx="768.75" cy="457.25" r="6.6"/><circle cx="768.75" cy="457.00" r="6.6"/><circle cx="782.50" cy="456.75" r="6.6"/><circle cx="806.25" cy="456.00" r="6.6"/><circle cx="806.25" cy="456.50" r="6.6"/><circle cx="934.25" cy="457.25" r="6.6"/><circle cx="951.25" cy="456.50" r="6.6"/><circle cx="1053.50" cy="456.50" r="6.6"/><circle cx="1109.50" cy="456.50" r="6.6"/><circle cx="1350.75" cy="456.75" r="6.6"/><circle cx="1387.00" cy="456.75" r="6.6"/><circle cx="1889.25" cy="456.50" r="6.6"/><circle cx="603.75" cy="456.05" r="6.6"/><circle cx="603.75" cy="457.05" r="6.6"/></g>
<path d="M598.35,456.50H609.15M599.60,456.50H610.40M604.60,456.50H615.40M609.60,457.00H620.40M615.85,457.00H626.65M625.60,457.25H636.40M692.10,456.50H702.90M704.60,455.50H715.40M718.35,456.00H729.15M720.85,457.25H731.65M734.60,457.25H745.40M763.35,457.25H774.15M777.10,456.75H787.90M800.85,456.00H811.65M928.85,457.25H939.65M945.85,456.50H956.65M1048.10,456.50H1058.90M1104.10,456.50H1114.90M1345.35,456.75H1356.15M1381.60,456.75H1392.40M1883.85,456.50H1894.65" stroke="#fff" stroke-opacity="0.22" stroke-width="0.7"/>
<g fill="#47bfad" fill-opacity="0.6" stroke="rgba(0,0,0,0.56)" stroke-width="1.1"><circle cx="603.75" cy="487.50" r="6.6"/><circle cx="603.75" cy="487.80" r="6.6"/><circle cx="603.75" cy="487.20" r="6.6"/><circle cx="618.75" cy="488.00" r="6.6"/><circle cx="625.00" cy="488.00" r="6.6"/><circle cx="631.25" cy="487.50" r="6.6"/><circle cx="635.00" cy="488.50" r="6.6"/><circle cx="653.75" cy="488.50" r="6.6"/><circle cx="708.00" cy="488.50" r="6.6"/><circle cx="793.00" cy="488.50" r="6.6"/><circle cx="862.00" cy="487.75" r="6.6"/><circle cx="930.50" cy="488.50" r="6.6"/><circle cx="1003.75" cy="486.75" r="6.6"/><circle cx="1045.50" cy="488.50" r="6.6"/><circle cx="1106.25" cy="487.25" r="6.6"/><circle cx="1138.75" cy="488.50" r="6.6"/><circle cx="1932.50" cy="488.00" r="6.6"/><circle cx="1932.50" cy="488.30" r="6.6"/><circle cx="1932.50" cy="487.70" r="6.6"/><circle cx="603.75" cy="487.10" r="6.6"/><circle cx="603.75" cy="488.10" r="6.6"/><circle cx="1932.50" cy="487.10" r="6.6"/><circle cx="1932.50" cy="488.10" r="6.6"/></g>
<path d="M598.35,487.50H609.15M613.35,488.00H624.15M619.60,488.00H630.40M625.85,487.50H636.65M629.60,488.50H640.40M648.35,488.50H659.15M702.60,488.50H713.40M787.60,488.50H798.40M856.60,487.75H867.40M925.10,488.50H935.90M998.35,486.75H1009.15M1040.10,488.50H1050.90M1100.85,487.25H1111.65M1133.35,488.50H1144.15M1927.10,488.00H1937.90" stroke="#fff" stroke-opacity="0.22" stroke-width="0.7"/>
<g fill="#4dc4ad" fill-opacity="0.6" stroke="rgba(0,0,0,0.56)" stroke-width="1.1"><circle cx="603.75" cy="518.50" r="6.6"/><circle cx="606.25" cy="518.50" r="6.6"/><circle cx="610.00" cy="518.50" r="6.6"/><circle cx="610.00" cy="518.80" r="6.6"/><circle cx="615.00" cy="518.50" r="6.6"/><circle cx="627.50" cy="519.00" r="6.6"/><circle cx="631.25" cy="519.00" r="6.6"/><circle cx="657.50" cy="517.50" r="6.6"/><circle cx="662.50" cy="518.00" r="6.6"/><circle cx="673.75" cy="519.50" r="6.6"/><circle cx="703.75" cy="518.75" r="6.6"/><circle cx="707.50" cy="518.75" r="6.6"/><circle cx="737.00" cy="519.50" r="6.6"/><circle cx="737.00" cy="519.20" r="6.6"/><circle cx="751.25" cy="518.00" r="6.6"/><circle cx="776.25" cy="519.50" r="6.6"/><circle cx="793.00" cy="519.25" r="6.6"/><circle cx="798.75" cy="518.75" r="6.6"/><circle cx="942.50" cy="518.00" r="6.6"/><circle cx="1006.75" cy="518.75" r="6.6"/><circle cx="1128.00" cy="518.75" r="6.6"/><circle cx="1244.25" cy="518.00" r="6.6"/><circle cx="1803.00" cy="518.00" r="6.6"/><circle cx="603.75" cy="518.16" r="6.6"/><circle cx="603.75" cy="519.16" r="6.6"/></g>
<path d="M598.35,518.50H609.15M600.85,518.50H611.65M604.60,518.50H615.40M609.60,518.50H620.40M622.10,519.00H632.90M625.85,519.00H636.65M652.10,517.50H662.90M657.10,518.00H667.90M668.35,519.50H679.15M698.35,518.75H709.15M702.10,518.75H712.90M731.60,519.50H742.40M745.85,518.00H756.65M770.85,519.50H781.65M787.60,519.25H798.40M793.35,518.75H804.15M937.10,518.00H947.90M1001.35,518.75H1012.15M1122.60,518.75H1133.40M1238.85,518.00H1249.65M1797.60,518.00H1808.40" stroke="#fff" stroke-opacity="0.22" stroke-width="0.7"/>
<g fill="#52c7ad" fill-opacity="0.6" stroke="rgba(0,0,0,0.56)" stroke-width="1.1"><circle cx="603.75" cy="549.25" r="6.6"/><circle cx="605.00" cy="549.50" r="6.6"/><circle cx="610.00" cy="549.50" r="6.6"/><circle cx="616.25" cy="549.50" r="6.6"/><circle cx="627.50" cy="549.50" r="6.6"/><circle cx="633.75" cy="550.00" r="6.6"/><circle cx="636.00" cy="549.50" r="6.6"/><circle cx="653.75" cy="549.25" r="6.6"/><circle cx="669.50" cy="549.50" r="6.6"/><circle cx="686.75" cy="549.50" r="6.6"/><circle cx="736.25" cy="549.50" r="6.6"/><circle cx="736.25" cy="549.80" r="6.6"/><circle cx="742.50" cy="550.75" r="6.6"/><circle cx="950.00" cy="550.00" r="6.6"/><circle cx="1068.00" cy="550.75" r="6.6"/><circle cx="1079.50" cy="549.25" r="6.6"/><circle cx="1095.50" cy="549.25" r="6.6"/><circle cx="1215.00" cy="549.25" r="6.6"/><circle cx="1433.75" cy="550.00" r="6.6"/><circle cx="1932.50" cy="549.50" r="6.6"/><circle cx="1932.50" cy="549.80" r="6.6"/><circle cx="603.75" cy="549.22" r="6.6"/><circle cx="603.75" cy="550.22" r="6.6"/><circle cx="1932.50" cy="549.22" r="6.6"/><circle cx="1932.50" cy="550.22" r="6.6"/><circle cx="737.00" cy="549.42" r="6.6"/><circle cx="737.00" cy="550.12" r="6.6"/></g>
<path d="M598.35,549.25H609.15M599.60,549.50H610.40M604.60,549.50H615.40M610.85,549.50H621.65M622.10,549.50H632.90M628.35,550.00H639.15M630.60,549.50H641.40M648.35,549.25H659.15M664.10,549.50H674.90M681.35,549.50H692.15M730.85,549.50H741.65M737.10,550.75H747.90M944.60,550.00H955.40M1062.60,550.75H1073.40M1074.10,549.25H1084.90M1090.10,549.25H1100.90M1209.60,549.25H1220.40M1428.35,550.00H1439.15M1927.10,549.50H1937.90M731.60,549.42H742.40" stroke="#fff" stroke-opacity="0.22" stroke-width="0.7"/>
<g fill="#60ceac" fill-opacity="0.6" stroke="rgba(0,0,0,0.56)" stroke-width="1.1"><circle cx="603.75" cy="580.50" r="6.6"/><circle cx="603.75" cy="580.80" r="6.6"/><circle cx="605.00" cy="580.50" r="6.6"/><circle cx="610.00" cy="581.00" r="6.6"/><circle cx="616.25" cy="581.00" r="6.6"/><circle cx="621.25" cy="581.00" r="6.6"/><circle cx="626.25" cy="581.00" r="6.6"/><circle cx="632.50" cy="581.00" r="6.6"/><circle cx="645.00" cy="580.50" r="6.6"/><circle cx="675.00" cy="581.25" r="6.6"/><circle cx="1130.50" cy="582.00" r="6.6"/><circle cx="1791.75" cy="580.50" r="6.6"/><circle cx="603.75" cy="580.28" r="6.6"/><circle cx="603.75" cy="581.28" r="6.6"/></g>
<path d="M598.35,580.50H609.15M599.60,580.50H610.40M604.60,581.00H615.40M610.85,581.00H621.65M615.85,581.00H626.65M620.85,581.00H631.65M627.10,581.00H637.90M639.60,580.50H650.40M669.60,581.25H680.40M1125.10,582.00H1135.90M1786.35,580.50H1797.15" stroke="#fff" stroke-opacity="0.22" stroke-width="0.7"/>
<g fill="#7fd7af" fill-opacity="0.6" stroke="rgba(0,0,0,0.56)" stroke-width="1.1"><circle cx="603.75" cy="612.50" r="6.6"/><circle cx="606.25" cy="612.50" r="6.6"/><circle cx="611.25" cy="612.00" r="6.6"/><circle cx="616.25" cy="612.50" r="6.6"/><circle cx="622.50" cy="612.50" r="6.6"/><circle cx="627.50" cy="612.00" r="6.6"/><circle cx="633.75" cy="612.50" r="6.6"/><circle cx="641.25" cy="612.50" r="6.6"/><circle cx="645.00" cy="612.50" r="6.6"/><circle cx="727.00" cy="612.50" r="6.6"/><circle cx="772.00" cy="610.50" r="6.6"/><circle cx="890.50" cy="611.25" r="6.6"/><circle cx="950.75" cy="611.75" r="6.6"/><circle cx="958.25" cy="612.50" r="6.6"/><circle cx="1932.50" cy="610.75" r="6.6"/><circle cx="603.75" cy="611.33" r="6.6"/><circle cx="603.75" cy="612.33" r="6.6"/></g>
<path d="M598.35,612.50H609.15M600.85,612.50H611.65M605.85,612.00H616.65M610.85,612.50H621.65M617.10,612.50H627.90M622.10,612.00H632.90M628.35,612.50H639.15M635.85,612.50H646.65M639.60,612.50H650.40M721.60,612.50H732.40M766.60,610.50H777.40M885.10,611.25H895.90M945.35,611.75H956.15M952.85,612.50H963.65M1927.10,610.75H1937.90" stroke="#fff" stroke-opacity="0.22" stroke-width="0.7"/>
<g fill="#a1dfb9" fill-opacity="0.6" stroke="rgba(0,0,0,0.56)" stroke-width="1.1"><circle cx="603.75" cy="643.00" r="6.6"/><circle cx="603.75" cy="643.30" r="6.6"/><circle cx="607.50" cy="642.50" r="6.6"/><circle cx="612.50" cy="643.00" r="6.6"/><circle cx="618.75" cy="643.00" r="6.6"/><circle cx="625.00" cy="643.50" r="6.6"/><circle cx="635.00" cy="643.50" r="6.6"/><circle cx="646.25" cy="643.00" r="6.6"/><circle cx="656.25" cy="642.00" r="6.6"/><circle cx="665.00" cy="643.50" r="6.6"/><circle cx="668.00" cy="642.75" r="6.6"/><circle cx="683.00" cy="642.00" r="6.6"/><circle cx="697.50" cy="642.75" r="6.6"/><circle cx="737.00" cy="642.75" r="6.6"/><circle cx="737.00" cy="643.00" r="6.6"/><circle cx="1304.50" cy="642.00" r="6.6"/><circle cx="1932.50" cy="644.00" r="6.6"/><circle cx="603.75" cy="642.39" r="6.6"/><circle cx="603.75" cy="643.39" r="6.6"/><circle cx="737.00" cy="642.59" r="6.6"/><circle cx="737.00" cy="643.29" r="6.6"/></g>
<path d="M598.35,643.00H609.15M602.10,642.50H612.90M607.10,643.00H617.90M613.35,643.00H624.15M619.60,643.50H630.40M629.60,643.50H640.40M640.85,643.00H651.65M650.85,642.00H661.65M659.60,643.50H670.40M662.60,642.75H673.40M677.60,642.00H688.40M692.10,642.75H702.90M731.60,642.75H742.40M1299.10,642.00H1309.90M1927.10,644.00H1937.90" stroke="#fff" stroke-opacity="0.22" stroke-width="0.7"/>
<g fill="#a9e1bd" fill-opacity="0.6" stroke="rgba(0,0,0,0.56)" stroke-width="1.1"><circle cx="603.75" cy="674.00" r="6.6"/><circle cx="603.75" cy="674.30" r="6.6"/><circle cx="608.75" cy="674.00" r="6.6"/><circle cx="616.25" cy="674.00" r="6.6"/><circle cx="622.50" cy="674.00" r="6.6"/><circle cx="628.75" cy="674.00" r="6.6"/><circle cx="635.00" cy="674.00" r="6.6"/><circle cx="646.25" cy="673.50" r="6.6"/><circle cx="669.50" cy="674.00" r="6.6"/><circle cx="968.25" cy="674.00" r="6.6"/><circle cx="1158.75" cy="674.75" r="6.6"/><circle cx="1200.75" cy="673.25" r="6.6"/><circle cx="603.75" cy="673.45" r="6.6"/><circle cx="603.75" cy="674.45" r="6.6"/></g>
<path d="M598.35,674.00H609.15M603.35,674.00H614.15M610.85,674.00H621.65M617.10,674.00H627.90M623.35,674.00H634.15M629.60,674.00H640.40M640.85,673.50H651.65M664.10,674.00H674.90M962.85,674.00H973.65M1153.35,674.75H1164.15M1195.35,673.25H1206.15" stroke="#fff" stroke-opacity="0.22" stroke-width="0.7"/>
<g fill="#b5e5c4" fill-opacity="0.6" stroke="rgba(0,0,0,0.56)" stroke-width="1.1"><circle cx="603.75" cy="705.25" r="6.6"/><circle cx="603.75" cy="705.50" r="6.6"/><circle cx="615.00" cy="705.00" r="6.6"/><circle cx="625.00" cy="705.50" r="6.6"/><circle cx="635.00" cy="705.00" r="6.6"/><circle cx="643.75" cy="705.25" r="6.6"/><circle cx="661.25" cy="705.25" r="6.6"/><circle cx="666.25" cy="703.50" r="6.6"/><circle cx="689.25" cy="706.00" r="6.6"/><circle cx="705.50" cy="705.25" r="6.6"/><circle cx="737.00" cy="704.50" r="6.6"/><circle cx="1315.00" cy="706.00" r="6.6"/><circle cx="1932.50" cy="705.25" r="6.6"/><circle cx="603.75" cy="704.50" r="6.6"/><circle cx="603.75" cy="705.50" r="6.6"/></g>
<path d="M598.35,705.25H609.15M609.60,705.00H620.40M619.60,705.50H630.40M629.60,705.00H640.40M638.35,705.25H649.15M655.85,705.25H666.65M660.85,703.50H671.65M683.85,706.00H694.65M700.10,705.25H710.90M731.60,704.50H742.40M1309.60,706.00H1320.40M1927.10,705.25H1937.90" stroke="#fff" stroke-opacity="0.22" stroke-width="0.7"/>
<g fill="#ff0561"><circle cx="895.25" cy="53.25" r="7.2"/><circle cx="1540.30" cy="56.00" r="7.2"/><circle cx="1531.25" cy="86.25" r="7.2"/><circle cx="1346.25" cy="175.50" r="7.2"/><circle cx="1840.75" cy="178.75" r="7.2"/><circle cx="1386.25" cy="208.00" r="7.2"/><circle cx="1889.00" cy="208.00" r="7.2"/><circle cx="996.25" cy="267.50" r="7.2"/><circle cx="1107.00" cy="298.25" r="7.2"/><circle cx="1160.25" cy="303.75" r="7.2"/><circle cx="1211.25" cy="303.75" r="7.2"/><circle cx="1344.50" cy="297.00" r="7.2"/><circle cx="1595.00" cy="305.75" r="7.2"/><circle cx="1787.00" cy="329.50" r="7.2"/><circle cx="1933.00" cy="333.25" r="7.2"/><circle cx="1356.25" cy="365.75" r="7.2"/><circle cx="1933.00" cy="359.00" r="7.2"/><circle cx="966.50" cy="391.75" r="7.2"/><circle cx="1468.25" cy="393.50" r="7.2"/><circle cx="1872.00" cy="394.00" r="7.2"/><circle cx="865.00" cy="429.25" r="7.2"/><circle cx="1340.00" cy="428.50" r="7.2"/><circle cx="1821.25" cy="429.75" r="7.2"/><circle cx="1372.50" cy="484.00" r="7.2"/><circle cx="1478.25" cy="585.50" r="7.2"/><circle cx="1529.25" cy="580.75" r="7.2"/><circle cx="1791.75" cy="583.75" r="7.2"/><circle cx="1475.00" cy="610.50" r="7.2"/><circle cx="1502.50" cy="612.00" r="7.2"/><circle cx="1933.25" cy="639.50" r="7.2"/></g>
</g>
<g font-family="Liberation Sans, Arial, sans-serif" font-size="22.5" fill="#4d4d4d" text-anchor="middle">
<text transform="translate(603.70,746.2)">0</text>
<text transform="translate(796.00,746.2)">1</text>
<text transform="translate(988.30,746.2)">2</text>
<text transform="translate(1180.60,746.2)">3</text>
<text transform="translate(1372.90,746.2)">4</text>
<text transform="translate(1565.20,746.2)">5</text>
<text transform="translate(1757.50,746.2)">6</text>
<text transform="translate(1949.80,746.2)">7</text>
</g>
<text transform="translate(1270.2,790.3) scale(1,1.04)" font-family="Liberation Sans, Arial, sans-serif" font-weight="bold" font-size="35.3" fill="#000" text-anchor="middle">Max. dN/dS distribution (log-transformed)</text>
<defs><linearGradient id="cb" x1="0" y1="0" x2="0" y2="1"><stop offset="0.00" stop-color="#413f80" stop-opacity="0.7"/><stop offset="0.10" stop-color="#3d5296" stop-opacity="0.7"/><stop offset="0.20" stop-color="#37669e" stop-opacity="0.7"/><stop offset="0.30" stop-color="#3579a2" stop-opacity="0.7"/><stop offset="0.40" stop-color="#348ca7" stop-opacity="0.7"/><stop offset="0.50" stop-color="#359fab" stop-opacity="0.7"/><stop offset="0.60" stop-color="#3cb1ad" stop-opacity="0.7"/><stop offset="0.70" stop-color="#4cc3ad" stop-opacity="0.7"/><stop offset="0.80" stop-color="#6dd3ad" stop-opacity="0.7"/><stop offset="0.90" stop-color="#9edfb8" stop-opacity="0.7"/><stop offset="1.00" stop-color="#c6ebd1" stop-opacity="0.7"/></linearGradient></defs>
<rect x="21" y="438" width="41" height="200" fill="url(#cb)"/>
<g font-family="Liberation Sans, Arial, sans-serif" font-weight="bold" font-size="16" fill="#000" letter-spacing="0.38">
<text x="81.3" y="453.8">540 mya</text>
<text x="81.3" y="634.3">7 - 25 mya</text>
<text x="81.3" y="691.8">Gene under</text>
<text x="81.3" y="711.8">positive selection</text>
</g>
<circle cx="41.5" cy="697.3" r="7.4" fill="#ff0561"/>
</svg>
</body></html>
